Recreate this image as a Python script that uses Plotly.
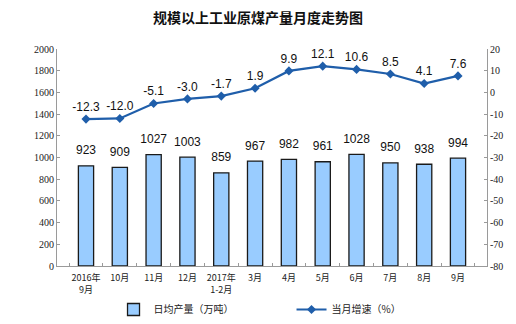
import plotly.graph_objects as go

categories = ["2016年<br>9月", "10月", "11月", "12月", "2017年<br>1-2月", "3月",
              "4月", "5月", "6月", "7月", "8月", "9月"]
daily_output = [923, 909, 1027, 1003, 859, 967, 982, 961, 1028, 950, 938, 994]
monthly_growth = [-12.3, -12.0, -5.1, -3.0, -1.7, 1.9, 9.9, 12.1, 10.6, 8.5, 4.1, 7.6]

left_ticks = list(range(0, 2001, 200))
right_ticks = list(range(-80, 21, 10))

cjk = "Noto Sans CJK SC"
serif = "Liberation Serif, Times New Roman, serif"
sans = "Liberation Sans, Arial, sans-serif"
axis_grey = "#9a9a9a"

fig = go.Figure()

fig.add_trace(go.Bar(
    x=categories, y=daily_output, name="日均产量（万吨）",
    marker=dict(color="#99CCFF", line=dict(color="#1a1a1a", width=1.3)),
    width=0.45, yaxis="y",
))

# value labels above the bars
fig.add_trace(go.Scatter(
    x=categories, y=daily_output, mode="markers+text",
    marker=dict(size=12, opacity=0),
    text=[str(v) for v in daily_output], textposition="top center",
    textfont=dict(family=sans, size=12, color="#111111"),
    cliponaxis=False, showlegend=False, hoverinfo="skip", yaxis="y",
))

fig.add_trace(go.Scatter(
    x=categories, y=monthly_growth, name="当月增速（%）",
    mode="lines+markers+text",
    line=dict(color="#1F5EAA", width=2.2),
    marker=dict(symbol="diamond", size=7, color="#1F5EAA"),
    text=[f"{v:.1f}" for v in monthly_growth], textposition="top center",
    textfont=dict(family=sans, size=12, color="#111111"),
    cliponaxis=False, yaxis="y2",
))

fig.update_layout(
    width=516, height=324,
    margin=dict(l=57, r=29, t=49, b=58, autoexpand=False),
    paper_bgcolor="white", plot_bgcolor="white",
    title=dict(text="<b>规模以上工业原煤产量月度走势图</b>", x=0.5, xanchor="center",
               y=0.945, yanchor="middle",
               font=dict(family=cjk, size=14, color="#111111")),
    xaxis=dict(
        type="category", tickson="boundaries", ticks="inside", ticklen=3,
        tickangle=0, automargin=False, ticklabelstandoff=3,
        tickcolor=axis_grey, showline=True, linecolor=axis_grey, linewidth=1,
        showgrid=False, tickfont=dict(family=cjk, size=9, color="#222222"),
    ),
    yaxis=dict(
        range=[0, 2000], tickvals=left_ticks, ticktext=[str(v) for v in left_ticks],
        ticks="inside", ticklen=3, automargin=False,
        tickcolor=axis_grey, showline=True, linecolor=axis_grey, linewidth=1,
        showgrid=False, zeroline=False,
        tickfont=dict(family=serif, size=10, color="#222222"),
    ),
    yaxis2=dict(
        range=[-80, 20], tickvals=right_ticks, ticktext=[str(v) for v in right_ticks],
        overlaying="y", side="right", automargin=False,
        ticks="inside", ticklen=3, tickcolor=axis_grey, showline=True,
        linecolor=axis_grey, linewidth=1, showgrid=False, zeroline=False,
        tickfont=dict(family=serif, size=10, color="#222222"),
    ),
    showlegend=True,
    legend=dict(orientation="h", xref="container", x=0.22, xanchor="left",
                yref="container", y=0.0, yanchor="bottom", itemwidth=30,
                bgcolor="rgba(0,0,0,0)",
                entrywidth=133, font=dict(family=cjk, size=10, color="#222222")),
)

fig.write_html("out.html")
